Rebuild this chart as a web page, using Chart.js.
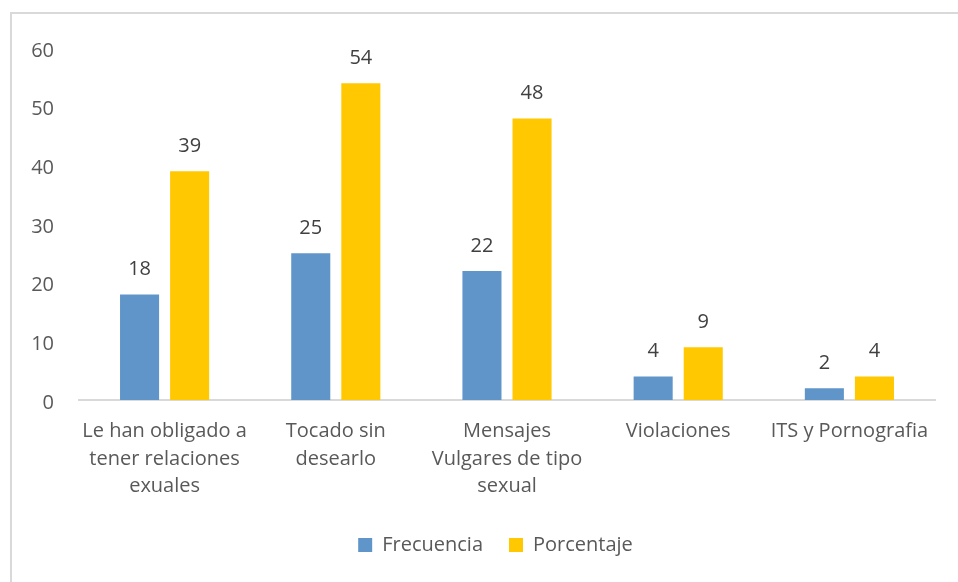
<!DOCTYPE html>
<html>
<head>
<meta charset="utf-8">
<script src="https://cdn.jsdelivr.net/npm/chart.js@4"></script>
<style>
  body { margin: 0; background: #fff; }
  #frame { position: absolute; left: 10px; top: 12px; width: 1000px; height: 700px;
           border-left: 2px solid #d9d9d9; border-top: 2px solid #d9d9d9; }
  #wrap { position: absolute; left: 0; top: 0; width: 958px; height: 582px; }
</style>
</head>
<body>
<div id="frame"></div>
<div id="wrap"><canvas id="myChart"></canvas></div>
<script>
const categories = [
  ['Le han obligado a', 'tener relaciones', 'exuales'],
  ['Tocado sin', 'desearlo'],
  ['Mensajes', 'Vulgares de tipo', 'sexual'],
  'Violaciones',
  'ITS y Pornografia'
]
const frecuencia = [18, 25, 22, 4, 2]
const porcentaje = [39, 54, 48, 9, 4]
const yTicks = [0, 10, 20, 30, 40, 50, 60]

const fontFamily = "'Open Sans', 'Noto Sans', sans-serif"

// numbers above each bar
const valueLabels = {
  id: 'valueLabels',
  afterDatasetsDraw(chart) {
    const ctx = chart.ctx
    ctx.save()
    ctx.font = '20px ' + fontFamily
    ctx.fillStyle = '#404040'
    ctx.textAlign = 'center'
    ctx.textBaseline = 'bottom'
    chart.data.datasets.forEach((ds, i) => {
      chart.getDatasetMeta(i).data.forEach((bar, j) => {
        ctx.fillText(ds.data[j], bar.x, bar.y - 15)
      })
    })
    ctx.restore()
  }
}

// legend sits a bit right of the canvas centre in the original
const shiftLegend = {
  id: 'shiftLegend',
  afterLayout(chart) {
    chart.legend.left += 18
    chart.legend.right += 18
  }
}

const ctx = document.getElementById('myChart')
const myChart = new Chart(ctx, {
  type: 'bar',
  data: {
    labels: categories,
    datasets: [{
      label: 'Frecuencia',
      backgroundColor: '#6095C9',
      data: frecuencia,
      categoryPercentage: 0.585,
      barPercentage: 0.78
    }, {
      label: 'Porcentaje',
      backgroundColor: '#FFC800',
      data: porcentaje,
      categoryPercentage: 0.585,
      barPercentage: 0.78
    }]
  },
  options: {
    responsive: true,
    maintainAspectRatio: false,
    animation: false,
    layout: { padding: { top: 48, right: 23, bottom: 17, left: 20 } },
    plugins: {
      tooltip: { enabled: false },
      legend: {
        position: 'bottom',
        labels: {
          boxWidth: 14,
          boxHeight: 14,
          padding: 26,
          color: '#595959',
          font: { family: fontFamily, size: 20 }
        }
      }
    },
    scales: {
      x: {
        grid: { display: false },
        border: { display: true, color: '#d9d9d9', width: 2 },
        ticks: {
          color: '#595959',
          padding: 10,
          maxRotation: 0,
          autoSkip: false,
          font: { family: fontFamily, size: 20, lineHeight: 1.37 }
        },
        afterFit: s => { s.height = 109 }
      },
      y: {
        min: 0,
        max: 60,
        grid: { display: false, drawTicks: false },
        border: { display: false },
        afterBuildTicks: s => { s.ticks = yTicks.map(v => ({ value: v })) },
        ticks: {
          color: '#595959',
          padding: 25,
          labelOffset: 3,
          font: { family: fontFamily, size: 20 }
        },
        afterFit: s => { s.width = 59 }
      }
    }
  },
  plugins: [valueLabels, shiftLegend]
})
</script>
</body>
</html>
